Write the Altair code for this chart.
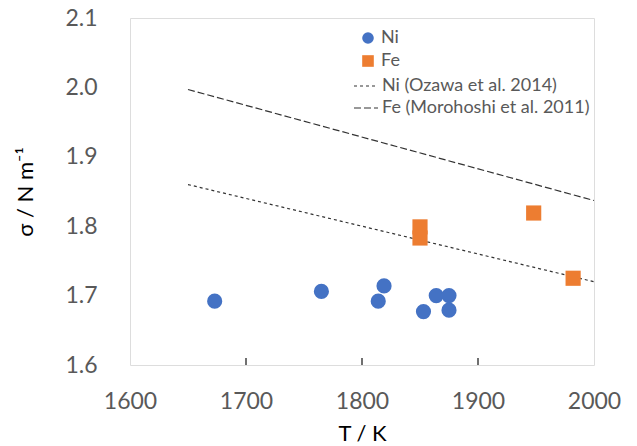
import altair as alt
import pandas as pd

# Measured data
ni_T = [1673, 1765, 1819, 1814, 1853, 1864, 1875, 1875]
ni_sigma = [1.692, 1.706, 1.714, 1.692, 1.677, 1.700, 1.700, 1.679]
fe_T = [1850, 1850, 1948, 1982]
fe_sigma = [1.799, 1.783, 1.819, 1.725]

ref_T = [1650, 2000]
ni_ref_sigma = [1.860, 1.720]
fe_ref_sigma = [1.997, 1.837]

x_ticks = [1600, 1700, 1800, 1900, 2000]
y_ticks = [1.6, 1.7, 1.8, 1.9, 2.0, 2.1]
inner_ticks = [1700, 1800, 1900]

metals = ["Ni", "Fe"]
refs = ["Ni (Ozawa et al. 2014)", "Fe (Morohoshi et al. 2011)"]

pts = pd.DataFrame({
    "T": ni_T + fe_T,
    "sigma": ni_sigma + fe_sigma,
    "metal": ["Ni"] * len(ni_T) + ["Fe"] * len(fe_T),
})
lines = pd.DataFrame({
    "T": ref_T + ref_T,
    "sigma": ni_ref_sigma + fe_ref_sigma,
    "ref": [refs[0]] * 2 + [refs[1]] * 2,
})
ticks_df = pd.DataFrame({"T": inner_ticks})

FONT = "Lato"
GRAY = "#595959"

xscale = alt.Scale(domain=[1600, 2000], nice=False, zero=False)
yscale = alt.Scale(domain=[1.6, 2.1], nice=False, zero=False)

xaxis = alt.Axis(values=x_ticks, format="d", title="T / K", grid=False, ticks=False, domain=False,
                 labelFont=FONT, labelFontSize=23, labelColor=GRAY, labelPadding=25,
                 titleFont=FONT, titleFontSize=22, titleFontWeight="normal", titleColor="black",
                 titleY=68, titleBaseline="middle", labelFlush=False)
yaxis = alt.Axis(values=y_ticks, format=".1f", title="σ / N m⁻¹", grid=False, ticks=False,
                 domain=False, labelFont=FONT, labelFontSize=23, labelColor=GRAY,
                 labelPadding=33, labelFlush=False,
                 titleFont=FONT, titleFontSize=22, titleFontWeight="normal", titleColor="black",
                 titleX=-105, titleBaseline="middle")

pt_legend = alt.Legend(title=None, orient="none", legendX=229, legendY=11,
                       labelFont=FONT, labelFontSize=18, labelColor=GRAY, labelLimit=400,
                       symbolSize=135, rowPadding=5, labelOffset=4, padding=0,
                       symbolStrokeWidth=0)

line_layer = alt.Chart(lines).mark_line(color="#333333", strokeWidth=1.2).encode(
    x=alt.X("T:Q", scale=xscale, axis=xaxis),
    y=alt.Y("sigma:Q", scale=yscale, axis=yaxis),
    strokeDash=alt.StrokeDash(
        "ref:N",
        scale=alt.Scale(domain=refs, range=[[3, 3], [7, 3]]),
        legend=alt.Legend(title=None, orient="none", legendX=223, legendY=55,
                          labelFont=FONT, labelFontSize=18, labelColor=GRAY, labelLimit=400,
                          symbolType="stroke", symbolSize=576, symbolStrokeColor="#333333",
                          symbolStrokeWidth=1.2, rowPadding=0, labelOffset=3, padding=0),
    ),
)

point_layer = alt.Chart(pts).mark_point(filled=True, opacity=1, size=230).encode(
    x=alt.X("T:Q", scale=xscale),
    y=alt.Y("sigma:Q", scale=yscale),
    color=alt.Color("metal:N", scale=alt.Scale(domain=metals, range=["#4472C4", "#ED7D31"]),
                    legend=pt_legend),
    shape=alt.Shape("metal:N", scale=alt.Scale(domain=metals, range=["circle", "square"]),
                    legend=pt_legend),
)

tick_layer = alt.Chart(ticks_df).mark_rule(color="#404040", strokeWidth=1.5).encode(
    x=alt.X("T:Q", scale=xscale),
    y=alt.value(347),
    y2=alt.value(340),
)

chart = alt.layer(line_layer, point_layer, tick_layer).properties(
    width=464, height=347,
    autosize=alt.AutoSizeParams(type="none"),
    padding={"left": 130, "top": 18, "right": 43, "bottom": 81},
).configure_view(stroke=GRAY, strokeWidth=1.5).configure(background="white")

chart.save("out.html", embed_options={"renderer": "svg", "actions": False})
